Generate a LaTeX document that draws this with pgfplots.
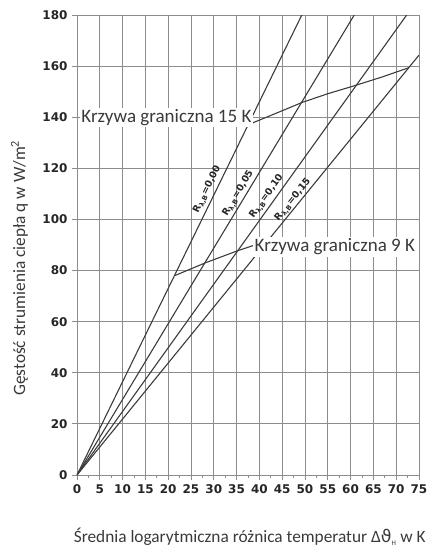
\documentclass[border=0pt]{standalone}
\usepackage{pgfplots}
\pgfplotsset{compat=1.18}
\usepackage{fontspec}
\setmainfont{Carlito}
\newfontfamily\tickfont{DejaVu Sans}
\newfontfamily\dvs{DejaVu Sans}
\definecolor{gridc}{HTML}{8C8C8C}
\definecolor{linec}{HTML}{3C3C3C}
\definecolor{txt}{HTML}{3A3A3A}
\begin{document}
\begin{tikzpicture}
\begin{axis}[
  at={(0,0)}, anchor=south west,
  scale only axis, width=342pt, height=460pt,
  xmin=0, xmax=75, ymin=0, ymax=180,
  xtick={0,5,...,75}, ytick={0,20,...,180},
  minor x tick num=1,
  grid=major,
  major grid style={gridc, line width=0.9pt},
  axis line style={gridc, line width=0.9pt},
  tick style={gridc, line width=0.9pt},
  tick align=outside, tick pos=left,
  major tick length=5pt, minor tick length=3pt,
  /pgf/number format/assume math mode=true,
  ticklabel style={font=\tickfont\bfseries\fontsize{12}{14}\selectfont, text=black!85},
  xticklabel style={yshift=-1pt},
  yticklabel style={xshift=-1pt},
  xlabel={Średnia logarytmiczna różnica temperatur Δ{\dvs ϑ}\textsubscript{\scriptsize H} w K},
  ylabel={Gęstość strumienia ciepła q w W/m\textsuperscript{2}},
  label style={font=\fontsize{17.3}{20}\selectfont, text=txt},
  xlabel style={at={(axis description cs:0.505,-0.135)}, anchor=center},
  ylabel style={at={(axis description cs:-0.168,0.45)}, anchor=center},
]
% R lines
\addplot[linec, line width=1.1pt] coordinates {(0,0) (49.3,180)};
\addplot[linec, line width=1.1pt] coordinates {(0,0) (60.8,180)};
\addplot[linec, line width=1.1pt] coordinates {(0,0) (72.3,180)};
\addplot[linec, line width=1.1pt] coordinates {(0,0) (75,164.3)};
% boundary curves
\addplot[linec, line width=1.1pt] coordinates {(38,137.4) (44,141.8) (49.4,145.8) (55,149.2) (60.8,152.3) (67,155.8) (72.8,159.4)};
\addplot[linec, line width=1.1pt] coordinates {(21.4,78.0) (28.4,83.2) (35,87.6) (39,90)};
% labels
\node[fill=white, inner sep=1.5pt, anchor=west, text=txt, font=\fontsize{19}{20}\selectfont] at (axis cs:0.6,140) {Krzywa graniczna 15 K};
\node[fill=white, inner sep=1.5pt, anchor=west, text=txt, font=\fontsize{19}{20}\selectfont] at (axis cs:38.6,89.2) {Krzywa graniczna 9 K};
\node[rotate=63.9, font=\dvs\bfseries\fontsize{9.5}{10}\selectfont, text=black!85] at (axis cs:28.6,111.8) {R\textsubscript{λ,B}=0,00};
\node[rotate=58.9, font=\dvs\bfseries\fontsize{9.5}{10}\selectfont, text=black!85] at (axis cs:35.4,110.2) {R\textsubscript{λ,B}=0,05};
\node[rotate=54.4, font=\dvs\bfseries\fontsize{9.5}{10}\selectfont, text=black!85] at (axis cs:41.6,108.9) {R\textsubscript{λ,B}=0,10};
\node[rotate=50.8, font=\dvs\bfseries\fontsize{9.5}{10}\selectfont, text=black!85] at (axis cs:47.4,107.6) {R\textsubscript{λ,B}=0,15};
\end{axis}
\pgfresetboundingbox
\path[use as bounding box] (-77pt,-72pt) rectangle (353pt,475pt);
\end{tikzpicture}
\end{document}
